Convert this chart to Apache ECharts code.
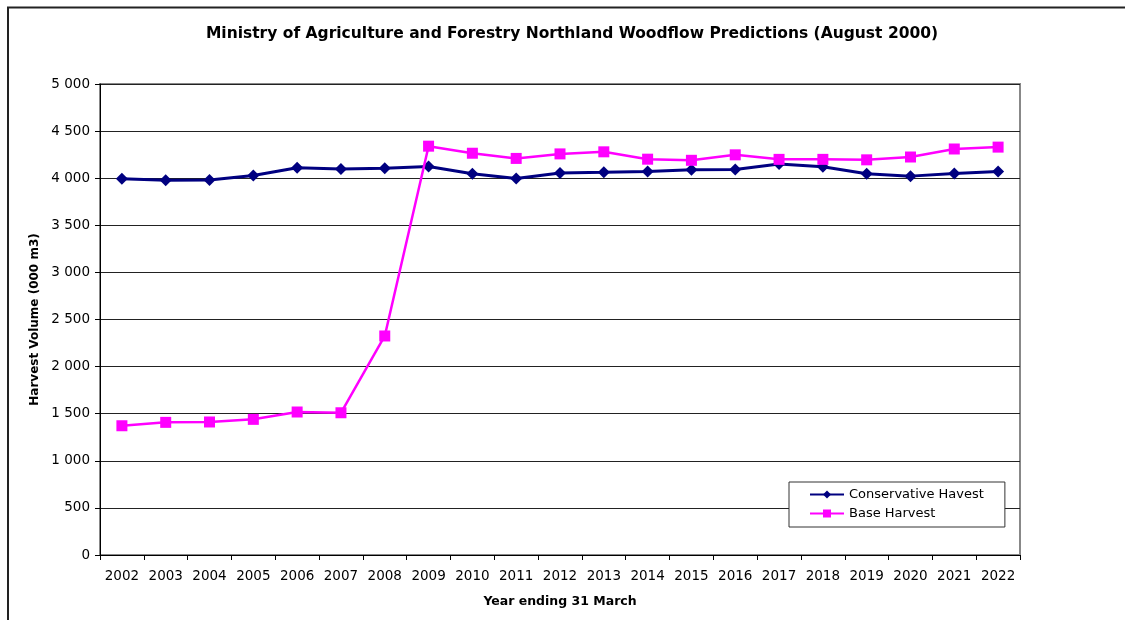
<!DOCTYPE html>
<html>
<head>
<meta charset="utf-8">
<script src="https://cdn.jsdelivr.net/npm/echarts@6/dist/echarts.min.js"></script>
<style>
html,body{margin:0;padding:0;background:#fff;}
#chart{width:1125px;height:620px;}
</style>
</head>
<body>
<div id="chart"></div>
<script>
const years = ['2002','2003','2004','2005','2006','2007','2008','2009','2010','2011','2012','2013','2014','2015','2016','2017','2018','2019','2020','2021','2022'];
const conservative = [3995,3978,3982,4028,4110,4098,4105,4125,4048,3998,4055,4062,4070,4090,4092,4150,4122,4048,4022,4050,4070];
const base = [1372,1408,1412,1440,1518,1510,2325,4340,4265,4210,4258,4280,4202,4190,4248,4200,4200,4195,4225,4310,4330];

const FONT = '"DejaVu Sans", "Liberation Sans", Arial, sans-serif';
const chart = echarts.init(document.getElementById('chart'));
const fmt = v => { const s = String(v); return s.length > 3 ? s.slice(0, s.length-3) + ' ' + s.slice(-3) : s; };

chart.setOption({
  animation: false,
  backgroundColor: '#fff',
  title: {
    text: 'Ministry of Agriculture and Forestry Northland Woodflow Predictions (August 2000)',
    left: 567, top: 21, textAlign: 'center',
    textStyle: { fontFamily: FONT, fontSize: 15.5, fontWeight: 'bold', color: '#000' }
  },
  graphic: [
    { type: 'polyline', shape: { points: [[8, 640], [8, 7.5], [1140, 7.5]] }, style: { stroke: '#222', lineWidth: 2, fill: null } }
  ],
  legend: {
    left: 789, top: 482, orient: 'vertical',
    backgroundColor: '#fff',
    borderColor: '#333', borderWidth: 1,
    padding: [6, 21, 7, 20],
    itemGap: 6, itemWidth: 34, itemHeight: 10,
    textStyle: { fontFamily: FONT, fontSize: 13, color: '#000' },
    data: ['Conservative Havest', 'Base Harvest']
  },
  grid: { left: 100, right: 105, top: 84, bottom: 65, show: true, borderColor: '#888', borderWidth: 2, backgroundColor: 'transparent' },
  xAxis: {
    type: 'category', data: years, boundaryGap: true,
    name: 'Year ending 31 March', nameLocation: 'middle', nameGap: 40,
    nameTextStyle: { fontFamily: FONT, fontSize: 12.5, fontWeight: 'bold', color: '#000' },
    axisLine: { lineStyle: { color: '#000', width: 1 } },
    axisTick: { show: true, alignWithLabel: false, length: 5, lineStyle: { color: '#000' } },
    axisLabel: { fontFamily: FONT, fontSize: 13.5, color: '#000', margin: 14, interval: 0 }
  },
  yAxis: {
    type: 'value', min: 0, max: 5000, interval: 500,
    name: 'Harvest Volume (000 m3)', nameLocation: 'middle', nameGap: 57, nameRotate: 90,
    nameTextStyle: { fontFamily: FONT, fontSize: 12, fontWeight: 'bold', color: '#000' },
    axisLine: { show: true, lineStyle: { color: '#000', width: 1 } },
    axisTick: { show: true, length: 5, lineStyle: { color: '#000' } },
    axisLabel: { fontFamily: FONT, fontSize: 13.5, color: '#000', margin: 10, formatter: fmt },
    splitLine: { show: true, lineStyle: { color: '#222', width: 1 } }
  },
  series: [
    {
      name: 'Conservative Havest', type: 'line', data: conservative,
      symbol: 'diamond', symbolSize: 12,
      lineStyle: { color: '#000080', width: 3 },
      itemStyle: { color: '#000080' },
      z: 3
    },
    {
      name: 'Base Harvest', type: 'line', data: base,
      symbol: 'rect', symbolSize: 11,
      lineStyle: { color: '#FF00FF', width: 2.5 },
      itemStyle: { color: '#FF00FF' },
      z: 4
    }
  ]
});
</script>
</body>
</html>
